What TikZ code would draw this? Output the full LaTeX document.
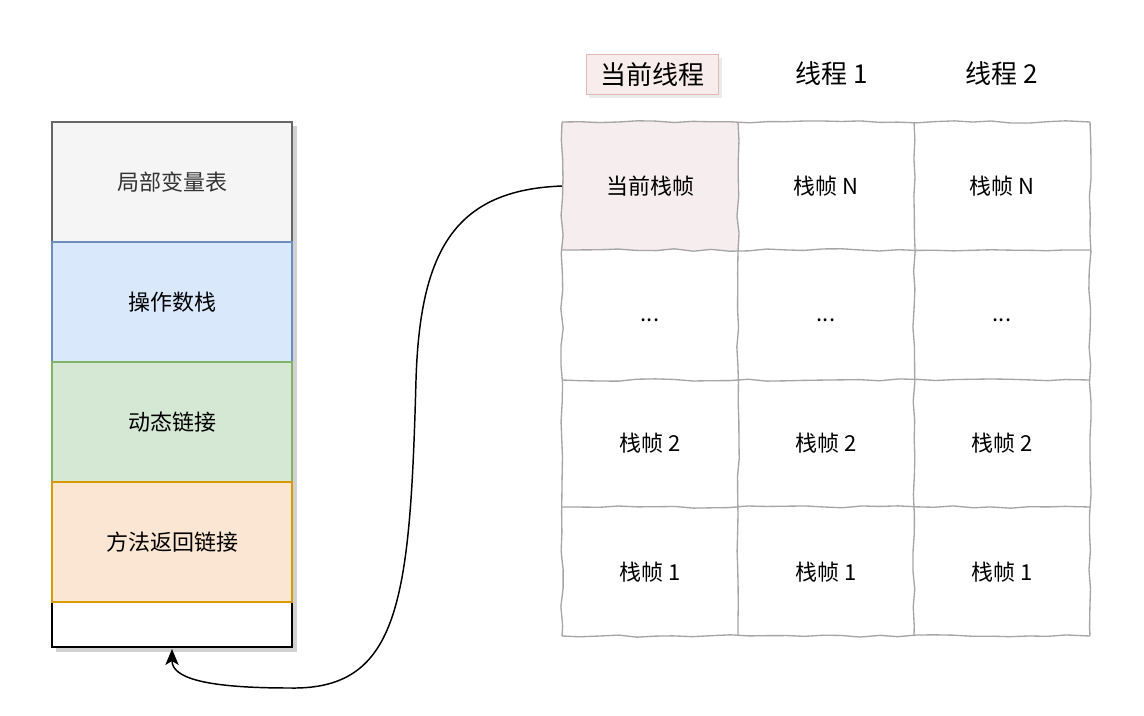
\documentclass[tikz,border=0pt]{standalone}
\usepackage{fontspec}
\newfontfamily\cjk{Noto Sans CJK SC}
\usetikzlibrary{arrows.meta,decorations.pathmorphing}

\tikzset{every picture/.style={line width=0.75pt}}
\tikzset{
	seg/.style={draw, line width=0.9pt, minimum width=180pt, minimum height=90pt, inner sep=0pt, font=\cjk\fontsize{16.5}{19}\selectfont},
	cell/.style={minimum width=132pt, minimum height=96pt, inner sep=0pt, font=\cjk\fontsize{16.5}{19}\selectfont},
	head/.style={inner xsep=8pt, inner ysep=5pt, font=\cjk\fontsize{19.5}{23}\selectfont},
	sketch/.style={draw={rgb, 255:red, 165; green, 165; blue, 165}, line width=1pt, decorate, decoration={random steps, segment length=14pt, amplitude=0.9pt}}
}

\begin{document}
\begin{tikzpicture}[x=0.75pt,y=0.75pt,yscale=-1,xscale=1]
	\pgfmathsetseed{7}
	\useasboundingbox (0,0) rectangle (1144,716);

	%Shape: Rectangle (stack frame) with shadow
	\fill [black, opacity=0.18] (56,126) rectangle (297,652) ;
	\draw [line width=1.3pt, fill=white] (52,122) rectangle (292,647) ;
	% Stack parts
	\node [seg, draw={rgb, 255:red, 102; green, 102; blue, 102}, fill={rgb, 255:red, 245; green, 245; blue, 245}, text={rgb, 255:red, 51; green, 51; blue, 51}] (lvars) at (172,182) {局部变量表};
	\node [seg, draw={rgb, 255:red, 108; green, 142; blue, 191}, fill={rgb, 255:red, 218; green, 232; blue, 252}] (opstack) at (172,302) {操作数栈};
	\node [seg, draw={rgb, 255:red, 130; green, 179; blue, 102}, fill={rgb, 255:red, 213; green, 232; blue, 212}] (dynlink) at (172,422) {动态链接};
	\node [seg, draw={rgb, 255:red, 215; green, 155; blue, 0}, fill={rgb, 255:red, 250; green, 230; blue, 211}] (retaddr) at (172,542) {方法返回链接};
	\coordinate (stackbottom) at (172,649) ;

	% Thread headers
	\fill [black, opacity=0.08] (589,58) rectangle (722,98) ;
	\node [head, draw={rgb, 255:red, 228; green, 182; blue, 182}, fill={rgb, 255:red, 248; green, 236; blue, 236}, minimum width=99pt, minimum height=30pt] (curthread) at (652,75) {当前线程};
	\node [head] (thread1) at (832,74) {线程 1};
	\node [head] (thread2) at (1002,74) {线程 2};

	%Shape: grid of frames
	\fill [fill={rgb, 255:red, 246; green, 238; blue, 238}] (562,122) rectangle (738,250) ;
	\foreach \y in {122,250,380,507,636} \draw [sketch] (562,\y) -- (1090,\y) ;
	\foreach \x in {562,738,914,1090} \draw [sketch] (\x,122) -- (\x,636) ;

	% Text Nodes
	\node [cell] (curframe) at (650,186) {当前栈帧};
	\node [cell] (t1n) at (826,186) {栈帧 N};
	\node [cell] (t2n) at (1002,186) {栈帧 N};
	\node [cell] (curdots) at (650,320) {...};
	\node [cell] (t1dots) at (826,320) {...};
	\node [cell] (t2dots) at (1002,320) {...};
	\node [cell] (cur2) at (650,443) {栈帧 2};
	\node [cell] (t1two) at (826,443) {栈帧 2};
	\node [cell] (t2two) at (1002,443) {栈帧 2};
	\node [cell] (cur1) at (650,572) {栈帧 1};
	\node [cell] (t1one) at (826,572) {栈帧 1};
	\node [cell] (t2one) at (1002,572) {栈帧 1};

	%Curve Lines
	\draw [line width=1.1pt, -{Stealth[length=12pt, width=10pt, inset=3pt]}] (562,186) .. controls (455,190) and (420,250) .. (416,380) .. controls (410,600) and (400,690) .. (290,688) .. controls (205,688) and (172,678) .. (stackbottom) ;

\end{tikzpicture}
\end{document}
